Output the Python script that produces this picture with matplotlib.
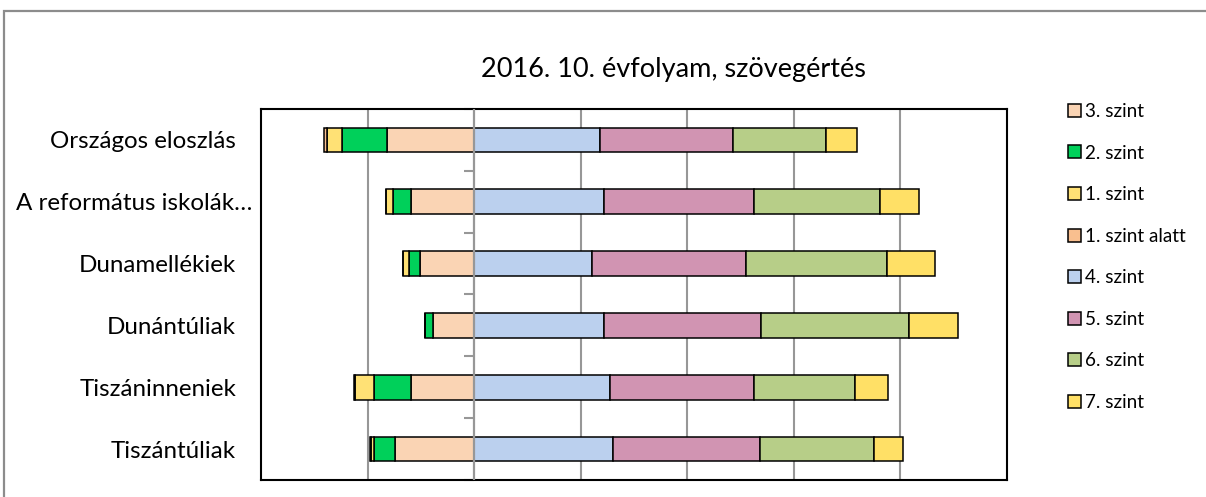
import matplotlib
matplotlib.use("Agg")
import matplotlib.pyplot as plt
from matplotlib.patches import Rectangle
from matplotlib.transforms import ScaledTranslation
import numpy as np

plt.rcParams['font.family'] = ['Lato', 'DejaVu Sans']

categories = ["Országos eloszlás", "A református iskolák…", "Dunamellékiek",
              "Dunántúliak", "Tiszáninneniek", "Tiszántúliak"]

# left side (below level 4), in %
szint3 = [16.4, 11.8, 10.1, 7.8, 11.9, 14.8]
szint2 = [8.4, 3.5, 2.2, 1.4, 6.8, 3.9]
szint1 = [2.8, 1.2, 1.0, 0.1, 3.7, 0.6]
szint_alatt = [0.6, 0.1, 0.1, 0.0, 0.1, 0.2]
# right side
szint4 = [23.6, 24.4, 22.2, 24.4, 25.5, 26.0]
szint5 = [25.0, 28.2, 28.8, 29.5, 27.0, 27.6]
szint6 = [17.4, 23.5, 26.5, 27.7, 18.9, 21.4]
szint7 = [5.8, 7.4, 9.0, 9.2, 6.2, 5.5]

title = "2016. 10. évfolyam, szövegértés"

c3 = "#FAD4B4"
c2 = "#00D05A"
c1 = "#FFE175"
calatt = "#F9BF8F"
c4 = "#BBD0EE"
c5 = "#D194B2"
c6 = "#B7CE88"
c7 = "#FFE066"

fig = plt.figure(figsize=(12.06, 4.97), dpi=100)
ax = fig.add_axes([261/1206, 17/497, 746/1206, 371/497])

y = np.arange(len(categories))[::-1]
h = 0.4
ekw = dict(edgecolor="black", linewidth=1.1, height=h, zorder=3)

s3 = np.array(szint3); s2 = np.array(szint2); s1 = np.array(szint1); sa = np.array(szint_alatt)
b3 = ax.barh(y, -s3, left=0, color=c3, label="3. szint", **ekw)
b2 = ax.barh(y, -s2, left=-s3, color=c2, label="2. szint", **ekw)
b1 = ax.barh(y, -s1, left=-(s3 + s2), color=c1, label="1. szint", **ekw)
ba = ax.barh(y, -sa, left=-(s3 + s2 + s1), color=calatt, label="1. szint alatt", **ekw)

r4 = np.array(szint4); r5 = np.array(szint5); r6 = np.array(szint6); r7 = np.array(szint7)
b4 = ax.barh(y, r4, left=0, color=c4, label="4. szint", **ekw)
b5 = ax.barh(y, r5, left=r4, color=c5, label="5. szint", **ekw)
b6 = ax.barh(y, r6, left=r4 + r5, color=c6, label="6. szint", **ekw)
b7 = ax.barh(y, r7, left=r4 + r5 + r6, color=c7, label="7. szint", **ekw)

ax.set_xlim(-40, 100)
ax.set_ylim(-0.5, len(categories) - 0.5)

gray = "#979797"
for gx in [-20, 20, 40, 60, 80]:
    ax.axvline(gx, color=gray, linewidth=1.5, zorder=1)
ax.axvline(0, color=gray, linewidth=1.6, zorder=5)

ax.set_xticks([])
ax.set_yticks(y)
ax.set_yticklabels(categories, fontsize=17.4)
ax.tick_params(axis='y', length=0, pad=18)
for lbl in ax.get_yticklabels():
    if lbl.get_text().startswith("A reform"):
        lbl.set_transform(lbl.get_transform() + ScaledTranslation(16/100, 0, fig.dpi_scale_trans))

# small ticks on the zero axis at category boundaries
sec = ax.secondary_yaxis(40/140)
sec.set_yticks(np.arange(-0.5, len(categories), 1.0))
sec.tick_params(axis='y', length=7, width=1.5, color=gray, labelleft=False)
sec.spines['left'].set_linewidth(0)

for sp in ax.spines.values():
    sp.set_linewidth(1.5)
    sp.set_color("black")

fig.text(673.5/1206, 1 - 76.7/497, title, fontsize=19.5, ha="center", va="baseline")

handles = [b3, b2, b1, ba, b4, b5, b6, b7]
labels = ["3. szint", "2. szint", "1. szint", "1. szint alatt",
          "4. szint", "5. szint", "6. szint", "7. szint"]
leg = fig.legend(handles, labels, loc="upper left", bbox_to_anchor=(1068/1206, 1 - 103/497),
                 frameon=False, fontsize=13.6, handlelength=0.68, handleheight=0.68,
                 handletextpad=0.2, labelspacing=1.30, borderpad=0, borderaxespad=0)

fig.patches.append(Rectangle((4/1206, -0.1), 1.2, 1.1 - 11/497, transform=fig.transFigure,
                             fill=False, edgecolor="#8c8c8c", linewidth=1.6))

fig.savefig("out.png", dpi=100)
